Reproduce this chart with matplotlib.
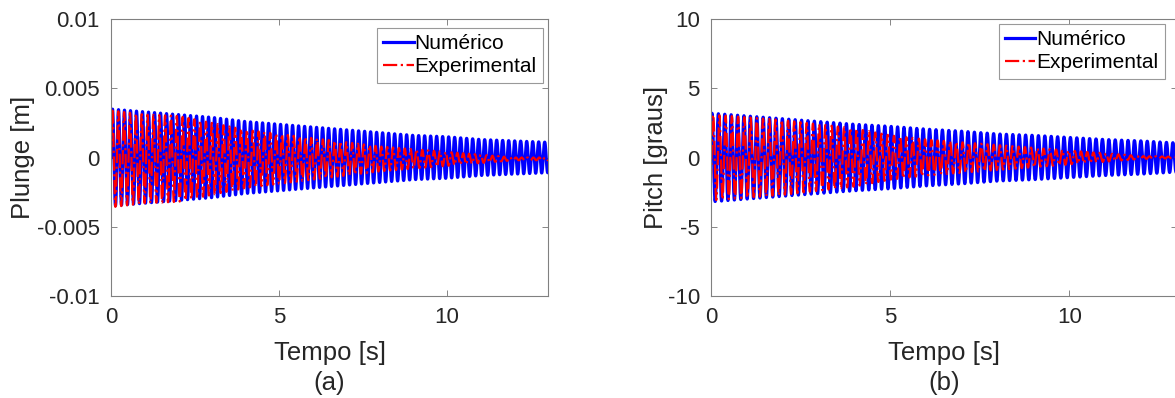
import numpy as np
import matplotlib.pyplot as plt

plt.rcParams['font.family'] = ['Liberation Sans', 'DejaVu Sans']

# envelope of each response, read once per second (t = 0..13 s)
t_env = np.arange(0, 14)
plunge_num_env = [0.0035, 0.0033, 0.0031, 0.0029, 0.0026, 0.0024, 0.0022,
                  0.0020, 0.0018, 0.0016, 0.0015, 0.0013, 0.0012, 0.0011]
plunge_exp_env = [0.0035, 0.0032, 0.0031, 0.0026, 0.0021, 0.0018, 0.0015,
                  0.0012, 0.0009, 0.0007, 0.0005, 0.0003, 0.0001, 0.0001]
pitch_num_env = [3.2, 3.0, 2.8, 2.6, 2.4, 2.25, 2.05,
                 1.9, 1.7, 1.6, 1.45, 1.3, 1.2, 1.05]
pitch_exp_env = [3.1, 2.9, 2.7, 2.4, 2.1, 1.6, 1.3,
                 1.1, 0.9, 0.7, 0.5, 0.3, 0.1, 0.05]

# oscillation frequency [Hz], initial phase [rad] and offset of each trace
f_num, f_exp = 5.6, 5.75
ph_plunge_num, ph_plunge_exp = -np.pi / 2, -np.pi / 2
ph_pitch_num, ph_pitch_exp = -0.95, -2.2
off_plunge_exp, off_pitch_exp = -0.0001, 0.0

t = np.linspace(0, 13, 6501)


def trace(env, f, ph, off=0.0):
    return np.interp(t, t_env, env) * np.cos(2 * np.pi * f * t + ph) + off


plunge_num = trace(plunge_num_env, f_num, ph_plunge_num)
plunge_exp = trace(plunge_exp_env, f_exp, ph_plunge_exp, off_plunge_exp)
pitch_num = trace(pitch_num_env, f_num, ph_pitch_num)
pitch_exp = trace(pitch_exp_env, f_exp, ph_pitch_exp, off_pitch_exp)

fig = plt.figure(figsize=(11.75, 3.98), dpi=100)
ax1 = fig.add_axes([111 / 1175, 1 - 296 / 398, 437 / 1175, 277 / 398])
ax2 = fig.add_axes([711 / 1175, 1 - 296 / 398, 466 / 1175, 277 / 398])

panels = [
    (ax1, plunge_num, plunge_exp, 'Plunge [m]', '(a)',
     [-0.01, -0.005, 0, 0.005, 0.01], ['-0.01', '-0.005', '0', '0.005', '0.01'],
     (0.9886, 0.9675), -0.174),
    (ax2, pitch_num, pitch_exp, 'Pitch [graus]', '(b)',
     [-10, -5, 0, 5, 10], ['-10', '-5', '0', '5', '10'],
     (0.974, 0.982), -0.092),
]

txt = '0.15'
for ax, yn, ye, ylab, tag, yt, ytl, anchor, ylab_x in panels:
    ax.plot(t, yn, color='b', lw=2.3, label='Numérico')
    ax.plot(t, ye, color='r', lw=1.6, ls='-.', label='Experimental')
    ax.set_xlim(0, 13)
    ax.set_ylim(yt[0], yt[-1])
    ax.set_xticks([0, 5, 10])
    ax.set_yticks(yt)
    ax.set_yticklabels(ytl)
    ax.tick_params(direction='in', top=True, right=True, length=4,
                   width=0.6, color='0.45', labelsize=16, labelcolor=txt, pad=8)
    for s in ax.spines.values():
        s.set_color('0.5')
        s.set_linewidth(0.8)
    ax.set_ylabel(ylab, fontsize=18.5, color=txt)
    ax.yaxis.set_label_coords(ylab_x, 0.5)
    ax.set_xlabel('Tempo [s]', fontsize=18.5, color=txt, labelpad=9)
    ax.text(0.5, -0.314, tag, transform=ax.transAxes, ha='center', va='center',
            fontsize=18.5, color=txt)
    leg = ax.legend(loc='upper right', bbox_to_anchor=anchor, borderaxespad=0,
                    fontsize=15, frameon=True, fancybox=False, framealpha=1,
                    edgecolor='0.6', handlelength=1.45, handletextpad=0.05,
                    borderpad=0.3, labelspacing=0.2)
    leg.get_frame().set_linewidth(0.8)

fig.savefig('out.png', dpi=100)
